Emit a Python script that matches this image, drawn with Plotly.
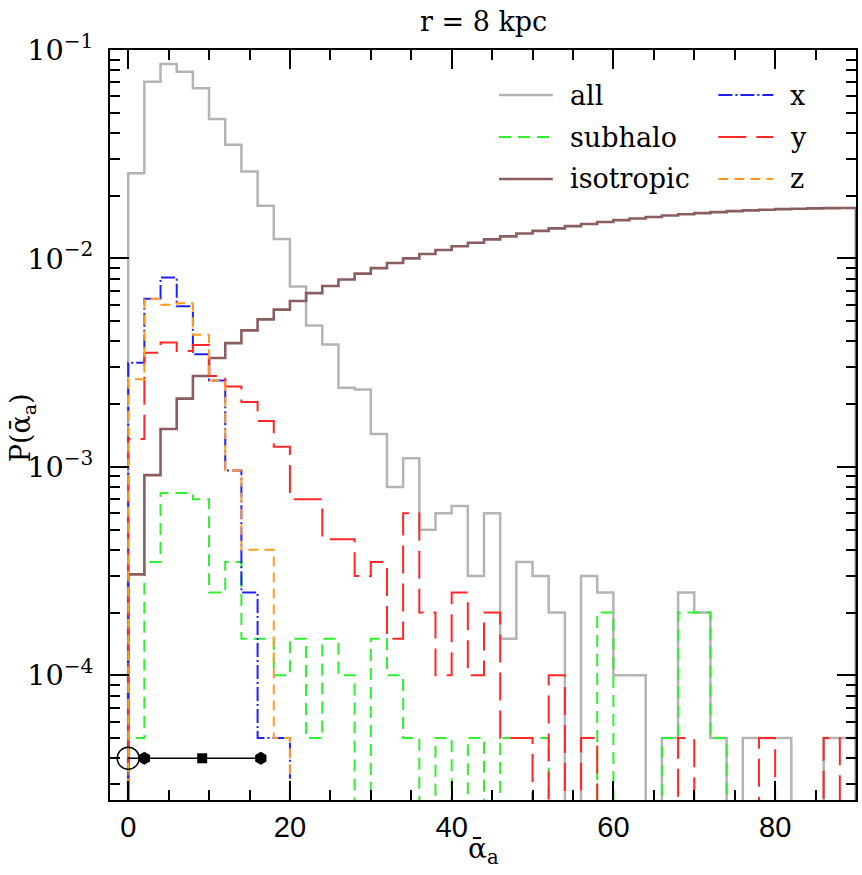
import plotly.graph_objects as go

# ---------------- data ----------------
bin_edges = list(range(0, 92, 2))  # 2-degree bins, 0..90

all_vals = [0.0256, 0.0705, 0.0857, 0.0787, 0.0656, 0.0467, 0.0351, 0.0261, 0.0179, 0.0124,
            0.00733, 0.00477, 0.00387, 0.00240, 0.00235, 0.00144, 0.00080, 0.00110, 0.00050, 0.00060,
            0.00065, 0.00030, 0.00060, 0.00015, 0.00035, 0.00030, 0.00020, 0.0, 0.00030, 0.00025,
            0.00010, 0.00010, 0.0, 0.00005, 0.00025, 0.00020, 0.00005, 0.0, 0.00005, 0.00005,
            0.00005, 0.0, 0.0, 0.00005, 0.00005]

subhalo_vals = [0.00005, 0.00035, 0.00075, 0.00075, 0.00070, 0.00025, 0.00035, 0.00015, 0.00015, 0.00010,
                0.00015, 0.00005, 0.00015, 0.00010, 0.0, 0.00015, 0.00010, 0.00005, 0.0, 0.00005,
                0.0, 0.00005, 0.0, 0.00005, 0.00005, 0.00005, 0.0, 0.0, 0.0, 0.00020,
                0.0, 0.0, 0.0, 0.00005, 0.00020, 0.00020, 0.00005, 0.0, 0.0, 0.0,
                0.0, 0.0, 0.0, 0.0, 0.0]

isotropic_vals = [0.000305, 0.000913, 0.001521, 0.002127, 0.002730, 0.003330, 0.003926, 0.004517, 0.005103, 0.005682,
                  0.006254, 0.006819, 0.007376, 0.007923, 0.008461, 0.008989, 0.009505, 0.010010, 0.010503, 0.010983,
                  0.011450, 0.011903, 0.012341, 0.012764, 0.013171, 0.013563, 0.013938, 0.014296, 0.014637, 0.014960,
                  0.015264, 0.015550, 0.015817, 0.016065, 0.016293, 0.016502, 0.016690, 0.016858, 0.017005, 0.017132,
                  0.017238, 0.017322, 0.017386, 0.017428, 0.017450]

x_vals = [0.00316, 0.0064, 0.0081, 0.0059, 0.00347, 0.0026, 0.00096, 0.00025, 0.00005, 0.00005]

y_vals = [0.00136, 0.00353, 0.00395, 0.00360, 0.00384, 0.00273, 0.00243, 0.00205, 0.00166, 0.00125,
          0.00070, 0.00070, 0.00045, 0.00045, 0.00030, 0.00035, 0.00015, 0.00060, 0.00020, 0.00010,
          0.00025, 0.00010, 0.00020, 0.00005, 0.00005, 0.0, 0.00010, 0.0, 0.00005, 0.0,
          0.0, 0.0, 0.0, 0.0, 0.00005, 0.0, 0.0, 0.0, 0.0, 0.00005,
          0.0, 0.0, 0.0, 0.00005, 0.0]

z_vals = [0.00263, 0.0064, 0.0060, 0.0061, 0.0043, 0.0026, 0.00096, 0.0004, 0.0004, 0.00005]

marker_x = [0.0, 2.0, 9.15, 16.4]
marker_y = [4.0e-5, 4.0e-5, 4.0e-5, 4.0e-5]

series_names = ["all", "subhalo", "isotropic", "x", "y", "z"]
title_text = "r = 8 kpc"

# ---------------- helpers ----------------
FLOOR = 1e-7  # empty bins drawn down below the axis


def step_xy(vals):
    xs = [bin_edges[0]]
    ys = [FLOOR]
    for i, v in enumerate(vals):
        xs.append(bin_edges[i])
        ys.append(v if v > 0 else FLOOR)
    xs.append(bin_edges[len(vals)])
    ys.append(FLOOR)
    return xs, ys


styles = {
    "all": dict(color="#b4b4b4", width=2.5, dash="solid"),
    "subhalo": dict(color="#2fef2f", width=2, dash="12px,7px"),
    "isotropic": dict(color="#8a5e5e", width=2.6, dash="solid"),
    "x": dict(color="#1f1fff", width=2, dash="14px,3px,2px,3px"),
    "y": dict(color="#ff2727", width=2, dash="28px,10px"),
    "z": dict(color="#ff9a22", width=2, dash="10px,6px"),
}

data_map = {"all": all_vals, "subhalo": subhalo_vals, "isotropic": isotropic_vals,
            "x": x_vals, "y": y_vals, "z": z_vals}

fig = go.Figure()
for name in series_names:
    xs, ys = step_xy(data_map[name])
    fig.add_trace(go.Scatter(x=xs, y=ys, mode="lines", line_shape="hv",
                             line=styles[name], name=name, showlegend=False,
                             hoverinfo="skip"))

# error-bar like markers at the bottom
fig.add_trace(go.Scatter(x=[marker_x[0], marker_x[-1]], y=[marker_y[0], marker_y[-1]],
                         mode="lines", line=dict(color="black", width=1.5),
                         showlegend=False, hoverinfo="skip"))
fig.add_trace(go.Scatter(x=[marker_x[0]], y=[marker_y[0]], mode="markers",
                         marker=dict(symbol="circle-open", size=22, color="black",
                                     line=dict(color="black", width=1.5)),
                         showlegend=False, hoverinfo="skip", cliponaxis=False))
fig.add_trace(go.Scatter(x=[marker_x[1], marker_x[3]], y=[marker_y[1], marker_y[3]], mode="markers",
                         marker=dict(symbol="hexagon", size=13, color="black"),
                         showlegend=False, hoverinfo="skip"))
fig.add_trace(go.Scatter(x=[marker_x[2]], y=[marker_y[2]], mode="markers",
                         marker=dict(symbol="square", size=10, color="black"),
                         showlegend=False, hoverinfo="skip"))

# ---------------- manual two-column legend ----------------
L, R, T, B = 110, 858, 50, 800
W, H = R - L, B - T


def px_x(p):
    return (p - L) / W


def px_y(p):
    return 1 - (p - T) / H


legend_cols = [(500, 554, 569), (720, 775, 790)]
legend_rows = [95, 137, 179]
for i, name in enumerate(series_names):
    col = legend_cols[i // 3]
    row = legend_rows[i % 3]
    st = styles[name]
    fig.add_shape(type="line", xref="paper", yref="paper",
                  x0=px_x(col[0]), x1=px_x(col[1]), y0=px_y(row), y1=px_y(row),
                  line=dict(color=st["color"], width=st["width"], dash=st["dash"]))
    fig.add_annotation(xref="paper", yref="paper", x=px_x(col[2]), y=px_y(row),
                       text=name, showarrow=False, xanchor="left", yanchor="middle",
                       font=dict(family="DejaVu Serif", size=27, color="black"))

# title and axis titles
fig.add_annotation(xref="paper", yref="paper", x=px_x(484), y=px_y(22), text=title_text,
                   showarrow=False, xanchor="center", yanchor="middle",
                   font=dict(family="DejaVu Serif", size=27, color="black"))
fig.add_annotation(xref="paper", yref="paper", x=px_x(484), y=px_y(850),
                   text="ᾱ<sub>a</sub>", showarrow=False, xanchor="center", yanchor="middle",
                   font=dict(family="DejaVu Serif", size=28, color="black"))
fig.add_annotation(xref="paper", yref="paper", x=px_x(22), y=px_y(428),
                   text="P(ᾱ<sub>a</sub>)", showarrow=False, textangle=-90,
                   xanchor="center", yanchor="middle",
                   font=dict(family="DejaVu Serif", size=27, color="black"))

axis_common = dict(showline=True, linecolor="black", linewidth=2, mirror="allticks",
                   ticks="inside", ticklen=19, tickwidth=2, tickcolor="black",
                   showgrid=False, zeroline=False)

fig.update_xaxes(range=[-2.25, 90], tickmode="array", tickvals=[0, 20, 40, 60, 80],
                 tickfont=dict(family="Liberation Sans", size=29, color="black"),
                 ticklabelstandoff=0,
                 minor=dict(ticks="inside", ticklen=10, tickwidth=1.5, tickcolor="black", dtick=5),
                 **axis_common)
fig.update_yaxes(type="log", range=[-4.598, -1], dtick=1, exponentformat="power",
                 showexponent="all",
                 tickfont=dict(family="DejaVu Serif", size=23, color="black"),
                 ticklabelstandoff=10,
                 minor=dict(ticks="inside", ticklen=10, tickwidth=1.5, tickcolor="black", dtick="D1"),
                 **axis_common)

fig.update_layout(width=862, height=875, margin=dict(l=L, r=862 - R, t=T, b=875 - B),
                  paper_bgcolor="white", plot_bgcolor="white", showlegend=False)

fig.write_html("out.html")
